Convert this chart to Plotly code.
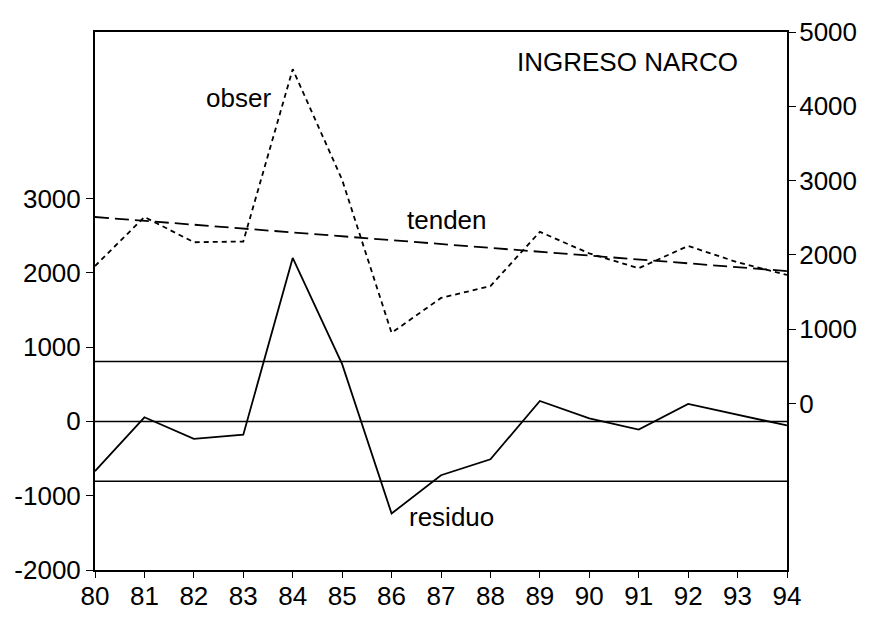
import plotly.graph_objects as go

# anos 1980-1994 (etiquetas de dos digitos como en el original)
years = [80, 81, 82, 83, 84, 85, 86, 87, 88, 89, 90, 91, 92, 93, 94]
year_labels = ['80', '81', '82', '83', '84', '85', '86', '87', '88', '89', '90', '91', '92', '93', '94']

# serie observada y tendencia (eje derecho)
obser = [1850, 2510, 2170, 2180, 4500, 3010, 950, 1420, 1580, 2310, 2020, 1820, 2120, 1900, 1730]
tenden = [2510, 2458, 2406, 2354, 2302, 2250, 2198, 2146, 2094, 2042, 1990, 1938, 1886, 1834, 1782]

# residuo (eje izquierdo) y bandas de +/- una desviacion
residuo = [-670, 55, -235, -180, 2200, 770, -1240, -725, -510, 275, 40, -110, 235, 85, -55]
banda = 805

left_ticks = [-2000, -1000, 0, 1000, 2000, 3000]
left_labels = ['-2000', '-1000', '0', '1000', '2000', '3000']
right_ticks = [0, 1000, 2000, 3000, 4000, 5000]
right_labels = ['0', '1000', '2000', '3000', '4000', '5000']

font = dict(family="Liberation Sans, Arial, sans-serif", size=26, color="black")

fig = go.Figure()

# bandas y linea cero del residuo
for lvl in [banda, 0, -banda]:
    fig.add_trace(go.Scatter(x=[years[0], years[-1]], y=[lvl, lvl], mode='lines',
                             line=dict(color='black', width=1.5), hoverinfo='skip'))

fig.add_trace(go.Scatter(x=years, y=residuo, mode='lines', name='residuo',
                         line=dict(color='black', width=1.8)))

fig.add_trace(go.Scatter(x=years, y=tenden, mode='lines', name='tenden', yaxis='y2',
                         line=dict(color='black', width=1.8, dash='14px,6px')))

fig.add_trace(go.Scatter(x=years, y=obser, mode='lines', name='obser', yaxis='y2',
                         line=dict(color='black', width=1.8, dash='5px,4px')))

# etiquetas de las series
def px2paper(px, py):
    return (px - 95) / 692, (570 - py) / 538

for txt, (px, py) in [('obser', (238, 98)), ('tenden', (447, 220)),
                      ('residuo', (451, 517)), ('INGRESO NARCO', (627, 62))]:
    xp, yp = px2paper(px, py)
    fig.add_annotation(x=xp, y=yp, xref='paper', yref='paper', text=txt,
                       xanchor='center', yanchor='middle',
                       showarrow=False, font=font)

fig.update_layout(
    width=872, height=617,
    margin=dict(l=95, r=85, t=32, b=47),
    paper_bgcolor='white', plot_bgcolor='white',
    showlegend=False,
    font=font,
    xaxis=dict(range=[80, 94], tickvals=years, ticktext=year_labels, automargin=False,
               showgrid=False, zeroline=False, showline=True, mirror=True,
               linecolor='black', linewidth=2, ticks='outside', ticklen=6,
               ticklabelstandoff=-4,
               tickcolor='black', tickfont=font),
    yaxis=dict(range=[-2000, 5240], tickvals=left_ticks, ticktext=left_labels,
               automargin=False,
               showgrid=False, zeroline=False, showline=True,
               linecolor='black', linewidth=2, ticks='outside', ticklen=7,
               tickcolor='black', tickfont=font),
    yaxis2=dict(range=[-2242, 5000], tickvals=right_ticks, ticktext=right_labels,
                overlaying='y', side='right', automargin=False,
                showgrid=False, zeroline=False, showline=True,
                linecolor='black', linewidth=2, ticks='outside', ticklen=7,
                ticklabelstandoff=-2,
                tickcolor='black', tickfont=font),
)

fig.write_html("out.html", config={'displayModeBar': False},
               post_script="document.body.style.margin='0';document.body.style.overflow='hidden';")
